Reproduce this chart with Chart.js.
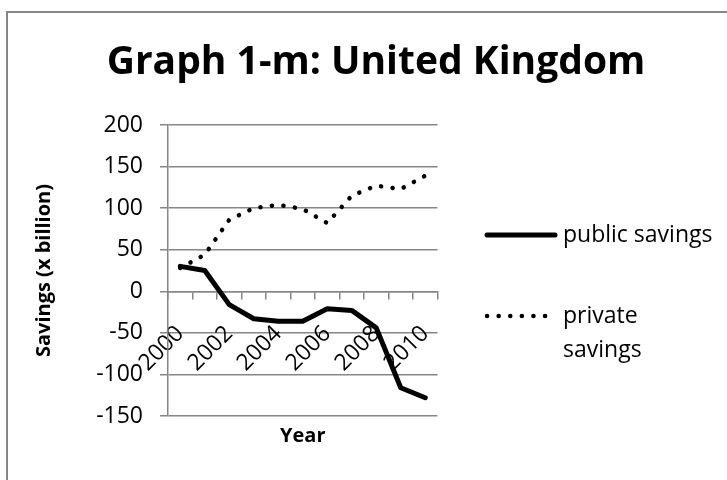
<!DOCTYPE html>
<html>
<head>
<meta charset="utf-8">
<title>Graph 1-m: United Kingdom</title>
<script src="https://cdn.jsdelivr.net/npm/chart.js@4.4.0/dist/chart.umd.min.js"></script>
<style>
  html, body { margin: 0; padding: 0; background: #fff; }
</style>
</head>
<body>
<canvas id="savingsChart" width="727" height="480"></canvas>
<script>
// UK savings, public vs private, billions
const years = ['2000', '2001', '2002', '2003', '2004', '2005', '2006', '2007', '2008', '2009', '2010'];
const publicSavings = [30, 25, -16, -33, -36, -36, -21, -23, -44, -116, -128];
const privateSavings = [28, 44, 86, 100, 104, 99, 82, 115, 127, 123, 139];
const yMin = -150;
const yMax = 200;
const yStep = 50;

const gridGray = '#868686';
const fontFamily = '"Open Sans", sans-serif';

Chart.defaults.font.family = fontFamily;
Chart.defaults.color = '#000';

// frame, heading and the legend on the right are drawn by hand
const frameTitleLegend = {
  id: 'frameTitleLegend',
  beforeDraw(chart) {
    const ctx = chart.ctx;
    ctx.save();
    ctx.fillStyle = '#fff';
    ctx.fillRect(0, 0, chart.width, chart.height);
    ctx.strokeStyle = gridGray;
    ctx.lineWidth = 2;
    ctx.strokeRect(7, 12, chart.width + 40, chart.height + 120);
    ctx.restore();
  },
  afterDraw(chart) {
    const ctx = chart.ctx;
    ctx.save();
    ctx.fillStyle = '#000';
    ctx.textBaseline = 'middle';

    ctx.font = 'bold 39px ' + fontFamily;
    ctx.textAlign = 'center';
    ctx.fillText('Graph 1-m: United Kingdom', 376, 63);

    const rows = [
      { ds: chart.data.datasets[0], y: 235, lines: ['public savings'] },
      { ds: chart.data.datasets[1], y: 316, lines: ['private', 'savings'] }
    ];
    ctx.font = '23px ' + fontFamily;
    ctx.textAlign = 'left';
    rows.forEach(r => {
      ctx.beginPath();
      ctx.strokeStyle = r.ds.borderColor;
      ctx.lineWidth = r.ds.borderWidth;
      ctx.lineCap = r.ds.borderCapStyle;
      ctx.setLineDash(r.ds.borderDash || []);
      ctx.moveTo(487, r.y);
      ctx.lineTo(r.ds.borderDash ? 548 : 555, r.y);
      ctx.stroke();
      r.lines.forEach((t, i) => ctx.fillText(t, 563, r.y + i * 34));
    });
    ctx.restore();
  }
};

new Chart(document.getElementById('savingsChart'), {
  type: 'line',
  data: {
    labels: years,
    datasets: [
      {
        label: 'public savings',
        data: publicSavings,
        borderColor: '#000',
        borderWidth: 5,
        borderCapStyle: 'round',
        borderJoinStyle: 'round',
        pointRadius: 0,
        tension: 0
      },
      {
        label: 'private savings',
        data: privateSavings,
        borderColor: '#000',
        borderWidth: 4.5,
        borderDash: [0.1, 11.5],
        borderCapStyle: 'round',
        borderJoinStyle: 'round',
        pointRadius: 0,
        tension: 0
      }
    ]
  },
  options: {
    responsive: false,
    animation: false,
    devicePixelRatio: 1,
    layout: { padding: { left: 0, right: 289.5, top: 125, bottom: 64 } },
    plugins: {
      legend: { display: false },
      title: { display: false },
      tooltip: { enabled: false }
    },
    scales: {
      x: {
        type: 'category',
        position: { y: 0 },
        offset: true,
        grid: { offset: true, drawOnChartArea: false, drawTicks: true, tickLength: 7, color: gridGray, lineWidth: 1.5 },
        border: { color: gridGray, width: 1.5 },
        ticks: {
          autoSkip: false,
          maxRotation: 45,
          minRotation: 45,
          padding: 22,
          font: { size: 23 },
          callback(value, index) { return index % 2 === 0 ? this.getLabelForValue(value) : ''; }
        },
        title: { display: true, text: 'Year', font: { size: 20, weight: 'bold' }, padding: { top: 0, bottom: 0 } },
        afterFit(scale) { scale.height = 157; }
      },
      y: {
        min: yMin,
        max: yMax,
        grid: { color: gridGray, lineWidth: 1.5, tickLength: 8 },
        border: { color: gridGray, width: 1.5 },
        ticks: { stepSize: yStep, padding: 17, font: { size: 23 } },
        title: { display: true, text: 'Savings (x billion)', font: { size: 20, weight: 'bold' }, padding: { top: 32, bottom: 0 } },
        afterFit(scale) { scale.width = 168; }
      }
    }
  },
  plugins: [frameTitleLegend]
});
</script>
</body>
</html>
